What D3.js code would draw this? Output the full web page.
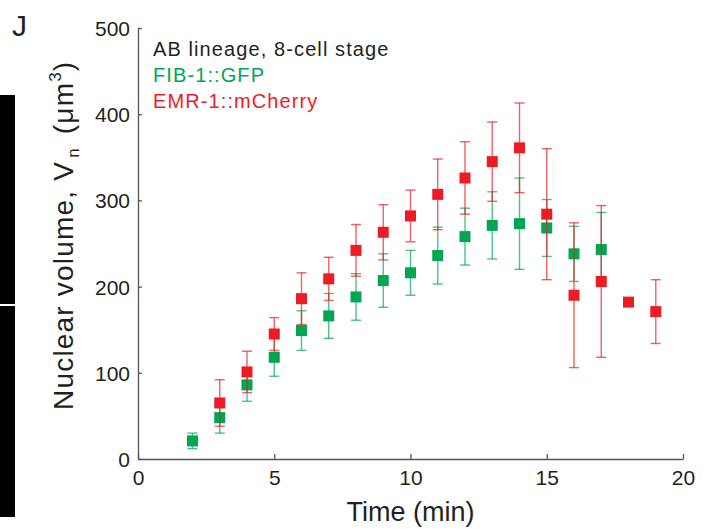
<!DOCTYPE html>
<html>
<head>
<meta charset="utf-8">
<script src="https://cdn.jsdelivr.net/npm/d3@7"></script>
<style>
  body { margin: 0; background: #fff; }
  text { font-family: "Liberation Sans", Arial, Helvetica, sans-serif; }
</style>
</head>
<body>
<div id="root"></div>
<script>
// FIB-1::GFP (green)
const gfpTime = [2, 3, 4, 5, 6, 7, 8, 9, 10, 11, 12, 13, 14, 15, 16, 17];
const gfpVol  = [21, 48, 86, 118, 149, 166, 188, 207, 216, 236, 258, 271, 273, 268, 238, 243];
const gfpErr  = [9, 18, 19, 22, 23, 26, 27, 31, 26, 33, 33, 39, 53, 33, 32, 43];

// EMR-1::mCherry (red)
const mchTime = [3, 4, 5, 6, 7, 8, 9, 10, 11, 12, 13, 14, 15, 16, 17, 18, 19];
const mchVol  = [65, 101, 145, 186, 209, 242, 263, 282, 307, 326, 345, 361, 284, 190, 206, 182, 171];
const mchErr  = [27, 24, 19, 30, 25, 30, 32, 30, 41, 42, 46, 52, 76, 84, 88, null, 37];

const xTicks = [0, 5, 10, 15, 20];
const yTicks = [0, 100, 200, 300, 400, 500];

const legendLines = [
  { text: 'AB lineage, 8-cell stage', color: '#231f20' },
  { text: 'FIB-1::GFP', color: '#00a651' },
  { text: 'EMR-1::mCherry', color: '#ed1c24' }
];

const w = 714;
const h = 529;
const margin = { left: 138, right: 31, top: 28, bottom: 70 };

const svg = d3.select('#root')
  .append('svg')
  .attr('width', w)
  .attr('height', h);

// black bars on the left edge
svg.append('rect').attr('x', 0).attr('y', 95).attr('width', 15).attr('height', 209).attr('fill', '#000');
svg.append('rect').attr('x', 0).attr('y', 306).attr('width', 15).attr('height', 211).attr('fill', '#000');

// panel letter
svg.append('text')
  .attr('x', 12).attr('y', 36)
  .attr('font-size', '30px')
  .attr('fill', '#231f20')
  .text('J');

const x = d3.scaleLinear().domain([0, 20]).range([margin.left, w - margin.right]);
const y = d3.scaleLinear().domain([0, 500]).range([h - margin.bottom, margin.top]);

const axisColor = '#555';

const xAxis = svg.append('g')
  .attr('transform', 'translate(0,' + (h - margin.bottom) + ')')
  .call(d3.axisBottom(x).tickValues(xTicks).tickSizeInner(-5).tickSizeOuter(0).tickPadding(11));

const yAxis = svg.append('g')
  .attr('transform', 'translate(' + margin.left + ',0)')
  .call(d3.axisLeft(y).tickValues(yTicks).tickSizeInner(-4).tickSizeOuter(0).tickPadding(8));

[xAxis, yAxis].forEach(g => {
  g.select('.domain').attr('stroke', axisColor).attr('stroke-width', 1.3);
  g.selectAll('.tick line').attr('stroke', axisColor).attr('stroke-width', 1.3);
  g.selectAll('.tick text')
    .attr('font-size', '21px')
    .attr('font-family', '"Liberation Sans", Arial, sans-serif')
    .attr('fill', '#231f20');
});
yAxis.selectAll('.tick text').attr('dy', '0.36em');

// axis titles
svg.append('text')
  .attr('x', (margin.left + w - margin.right) / 2)
  .attr('y', 521)
  .attr('text-anchor', 'middle')
  .attr('font-size', '27px')
  .attr('fill', '#231f20')
  .text('Time (min)');

const yl = svg.append('text')
  .attr('transform', 'translate(73,410) rotate(-90)')
  .attr('text-anchor', 'start')
  .attr('font-size', '28px')
  .attr('letter-spacing', '1.2px')
  .attr('fill', '#231f20');
yl.append('tspan').text('Nuclear volume,  V');
yl.append('tspan').attr('font-size', '17px').attr('dx', 3).attr('dy', 6).text('n');
yl.append('tspan').attr('dx', 4).attr('dy', -6).text(' (\u03bcm');
yl.append('tspan').attr('font-size', '17px').attr('dy', -12).text('3');
yl.append('tspan').attr('dy', 12).text(')');

// legend text
svg.selectAll('text.legend')
  .data(legendLines)
  .enter()
  .append('text')
  .attr('class', 'legend')
  .attr('x', 153)
  .attr('y', (d, i) => 56 + i * 26)
  .attr('font-size', '20px')
  .attr('letter-spacing', '1.1px')
  .attr('fill', d => d.color)
  .text(d => d.text);

const sq = 11;
const cap = 5;

function drawSeries(times, vals, errs, color) {
  const data = times.map((t, i) => ({ t: t, v: vals[i], e: errs[i] }));
  const withErr = data.filter(d => d.e != null);
  const g = svg.append('g');

  const eb = g.append('g')
    .attr('stroke', color)
    .attr('stroke-width', 1.4)
    .attr('stroke-opacity', 0.7);

  eb.selectAll('line.v')
    .data(withErr)
    .enter()
    .append('line')
    .attr('x1', d => x(d.t)).attr('x2', d => x(d.t))
    .attr('y1', d => y(d.v + d.e)).attr('y2', d => y(d.v - d.e));

  eb.selectAll('line.top')
    .data(withErr)
    .enter()
    .append('line')
    .attr('x1', d => x(d.t) - cap).attr('x2', d => x(d.t) + cap)
    .attr('y1', d => y(d.v + d.e)).attr('y2', d => y(d.v + d.e));

  eb.selectAll('line.bot')
    .data(withErr)
    .enter()
    .append('line')
    .attr('x1', d => x(d.t) - cap).attr('x2', d => x(d.t) + cap)
    .attr('y1', d => y(d.v - d.e)).attr('y2', d => y(d.v - d.e));

  return { g: g, data: data };
}

const gfp = drawSeries(gfpTime, gfpVol, gfpErr, '#00a651');
const mch = drawSeries(mchTime, mchVol, mchErr, '#ed1c24');

[[gfp, '#00a651'], [mch, '#ed1c24']].forEach(([s, color]) => {
  s.g.selectAll('rect')
    .data(s.data)
    .enter()
    .append('rect')
    .attr('x', d => x(d.t) - sq / 2)
    .attr('y', d => y(d.v) - sq / 2)
    .attr('width', sq)
    .attr('height', sq)
    .attr('fill', color);
});
</script>
</body>
</html>
